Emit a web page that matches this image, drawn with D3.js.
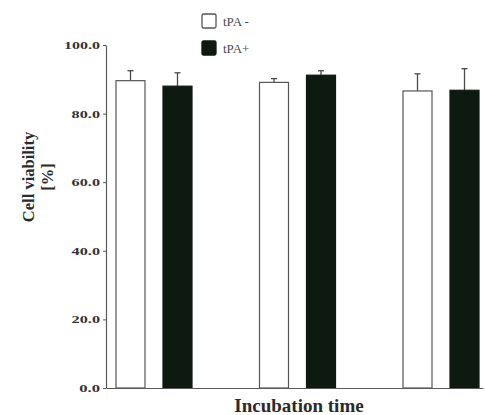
<!doctype html>
<html lang="en">
<head>
  <meta charset="utf-8">
  <title>Cell viability</title>
  <script type="text/javascript" src="https://cdnjs.cloudflare.com/ajax/libs/d3/7.8.5/d3.min.js"></script>
  <style>
    body { margin: 0; background: #fff; }
  </style>
</head>
<body>
  <svg width="485" height="415" id="svg"></svg>
<script type="text/javascript">

  // data
  var groups = ['t1', 't2', 't3'];
  var series = ['tPA -', 'tPA+'];
  var tpaMinus = [89.6, 89.1, 86.6];
  var tpaMinusErr = [2.9, 1.1, 5.0];
  var tpaPlus = [88.0, 91.2, 86.8];
  var tpaPlusErr = [3.9, 1.3, 6.3];
  var yTicks = [0, 20, 40, 60, 80, 100];

  var fills = ['#ffffff', '#0e1a10'];
  var axisColor = '#5a5a5a';

  var svg = d3.select('#svg');

  var x = d3.scaleBand()
    .domain(groups)
    .range([116, 116 + 3 * 143.5])
    .padding(0);

  var xInner = d3.scaleBand()
    .domain(series)
    .range([0, 76])
    .paddingInner(18 / 47)
    .paddingOuter(0);

  var y = d3.scaleLinear()
    .domain([0, 100])
    .range([388, 45]);

  var rows = [];
  groups.forEach(function(g, i) {
    rows.push({ group: g, s: series[0], v: tpaMinus[i], e: tpaMinusErr[i] });
    rows.push({ group: g, s: series[1], v: tpaPlus[i], e: tpaPlusErr[i] });
  });

  // error bars (drawn first so bars sit on top)
  var err = svg.append('g')
    .attr('stroke', '#4a4a4a')
    .attr('stroke-width', 1.3);

  err.selectAll('line.v')
    .data(rows)
    .enter()
    .append('line')
    .attr('class', 'v')
    .attr('x1', function(d) { return x(d.group) + xInner(d.s) + xInner.bandwidth() / 2; })
    .attr('x2', function(d) { return x(d.group) + xInner(d.s) + xInner.bandwidth() / 2; })
    .attr('y1', function(d) { return y(d.v); })
    .attr('y2', function(d) { return y(d.v + d.e); });

  err.selectAll('line.c')
    .data(rows)
    .enter()
    .append('line')
    .attr('class', 'c')
    .attr('x1', function(d) { return x(d.group) + xInner(d.s) + xInner.bandwidth() / 2 - 3; })
    .attr('x2', function(d) { return x(d.group) + xInner(d.s) + xInner.bandwidth() / 2 + 3; })
    .attr('y1', function(d) { return y(d.v + d.e); })
    .attr('y2', function(d) { return y(d.v + d.e); });

  // bars
  svg.append('g')
    .selectAll('rect')
    .data(rows)
    .enter()
    .append('rect')
    .attr('x', function(d) { return x(d.group) + xInner(d.s); })
    .attr('y', function(d) { return y(d.v); })
    .attr('width', xInner.bandwidth())
    .attr('height', function(d) { return y(0) - y(d.v); })
    .attr('fill', function(d) { return fills[series.indexOf(d.s)]; })
    .attr('stroke', function(d) { return d.s === series[0] ? '#555' : fills[1]; })
    .attr('stroke-width', 1.2);

  // y axis
  var yAxis = svg.append('g')
    .attr('transform', 'translate(106,0)')
    .call(d3.axisLeft(y).tickValues(yTicks).tickSize(3).tickSizeOuter(0)
      .tickFormat(function(d) { return d3.format('.1f')(d); }));

  yAxis.select('.domain').attr('stroke', axisColor).attr('stroke-width', 1.2);
  yAxis.selectAll('.tick line').attr('stroke', axisColor);
  yAxis.selectAll('.tick text')
    .attr('x', -6)
    .attr('fill', '#333')
    .style('font-family', '"Liberation Serif", serif')
    .style('font-weight', 'bold')
    .style('font-size', '11px')
    .attr('textLength', function(d) { return d3.format('.1f')(d).length * 7.6 - 2; })
    .attr('lengthAdjust', 'spacingAndGlyphs');

  // x axis baseline
  var xAxis = svg.append('g')
    .attr('transform', 'translate(0,388)')
    .call(d3.axisBottom(d3.scaleLinear().range([106, 483])).ticks(0).tickSizeOuter(0));
  xAxis.select('.domain').attr('stroke', axisColor).attr('stroke-width', 1.2);

  // axis titles
  svg.append('text')
    .attr('transform', 'translate(34,177) rotate(-90)')
    .attr('text-anchor', 'middle')
    .attr('fill', '#2a2a2a')
    .style('font-family', '"Liberation Serif", serif')
    .style('font-weight', 'bold')
    .style('font-size', '16.5px')
    .text('Cell viability');

  svg.append('text')
    .attr('transform', 'translate(53,177) rotate(-90)')
    .attr('text-anchor', 'middle')
    .attr('fill', '#2a2a2a')
    .style('font-family', '"Liberation Serif", serif')
    .style('font-weight', 'bold')
    .style('font-size', '16.5px')
    .text('[%]');

  svg.append('text')
    .attr('x', 299)
    .attr('y', 412)
    .attr('text-anchor', 'middle')
    .attr('fill', '#2a2a2a')
    .style('font-family', '"Liberation Serif", serif')
    .style('font-weight', 'bold')
    .style('font-size', '19px')
    .text('Incubation time');

  // legend
  var legend = svg.append('g')
    .selectAll('g')
    .data(series)
    .enter()
    .append('g')
    .attr('transform', function(d, i) { return 'translate(202,' + (14 + i * 27) + ')'; });

  legend.append('rect')
    .attr('width', 14)
    .attr('height', 14)
    .attr('rx', 1.5)
    .attr('fill', function(d, i) { return fills[i]; })
    .attr('stroke', function(d, i) { return i === 0 ? '#555' : fills[1]; })
    .attr('stroke-width', 1.3);

  legend.append('text')
    .attr('x', 21)
    .attr('y', 12)
    .attr('fill', '#4a4a4a')
    .style('font-family', '"Liberation Serif", serif')
    .style('font-size', '13px')
    .text(function(d) { return d; });

</script>
</body>
</html>
